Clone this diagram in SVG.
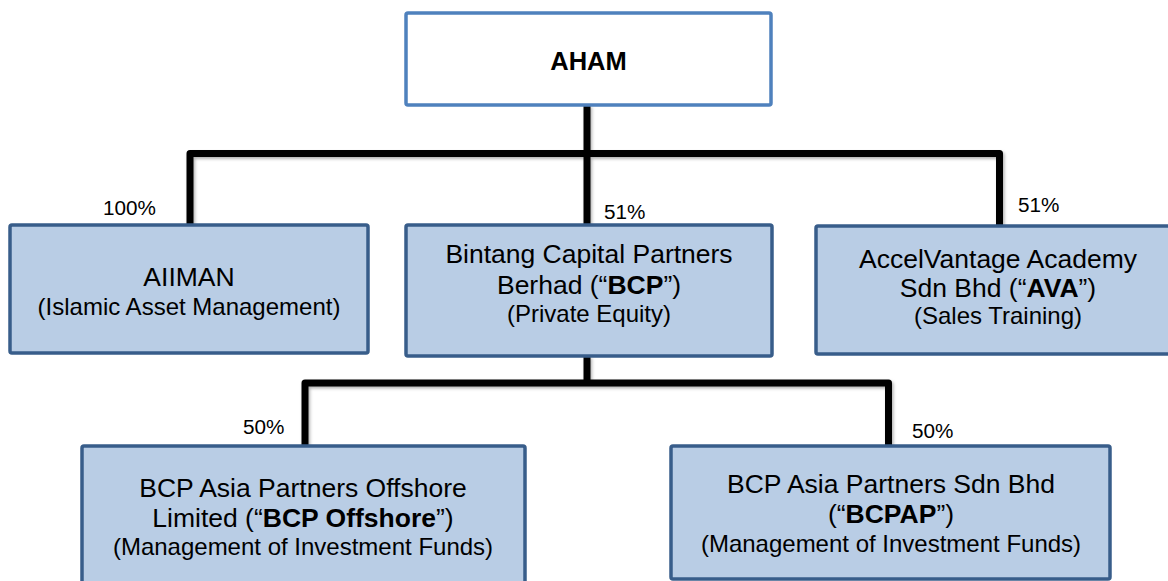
<svg xmlns="http://www.w3.org/2000/svg" width="1168" height="581" viewBox="0 0 1168 581">
<defs>
<style>
text{font-family:"Liberation Sans",Arial,sans-serif;fill:#000;text-anchor:middle}
.main{font-size:26.5px}
.sub{font-size:24px}
.pct{font-size:20.7px;text-anchor:start}
.b{font-weight:bold}
.top{fill:#fff;stroke:#4F81BD;stroke-width:3.5}
.box{fill:#B9CDE5;stroke:#385D8A;stroke-width:3.5}
.conn{fill:none;stroke:#000;stroke-width:7;stroke-linejoin:round}
</style>
<filter id="sh" x="-5%" y="-20%" width="110%" height="140%">
<feDropShadow dx="1.5" dy="2" stdDeviation="1.5" flood-color="#000" flood-opacity="0.3"/>
</filter>
</defs>
<rect width="1168" height="581" fill="#fff"/>
<g id="connectors" filter="url(#sh)">
<path class="conn" d="M587,105 V225"/>
<path class="conn" d="M190,225 V153.5 H999.5 V225"/>
<path class="conn" d="M587,356 V383"/>
<path class="conn" d="M305,446 V383 H888.5 V446"/>
</g>
<g id="aham">
<rect class="top" x="406" y="13" width="365" height="92" rx="2"/>
<text class="main b" x="588.5" y="70" style="font-size:25.5px">AHAM</text>
</g>
<g id="aiiman">
<rect class="box" x="10" y="225" width="358" height="128" rx="2"/>
<text class="main" x="189" y="286">AIIMAN</text>
<text class="sub" x="189" y="315">(Islamic Asset Management)</text>
<text class="pct" x="103" y="215">100%</text>
</g>
<g id="bcp">
<rect class="box" x="406" y="225" width="366" height="131" rx="2"/>
<text class="main" x="589" y="263">Bintang Capital Partners</text>
<text class="main" x="589" y="294">Berhad (“<tspan class="b">BCP</tspan>”)</text>
<text class="sub" x="589" y="322">(Private Equity)</text>
<text class="pct" x="604" y="219">51%</text>
</g>
<g id="ava">
<rect class="box" x="816" y="226" width="360" height="128" rx="2"/>
<text class="main" x="998" y="268">AccelVantage Academy</text>
<text class="main" x="998" y="297">Sdn Bhd (“<tspan class="b">AVA</tspan>”)</text>
<text class="sub" x="998" y="324">(Sales Training)</text>
<text class="pct" x="1018" y="212">51%</text>
</g>
<g id="bcp-offshore">
<rect class="box" x="82" y="446" width="443" height="150" rx="2"/>
<text class="main" x="303" y="497">BCP Asia Partners Offshore</text>
<text class="main" x="303" y="527">Limited (“<tspan class="b">BCP Offshore</tspan>”)</text>
<text class="sub" x="303" y="555">(Management of Investment Funds)</text>
<text class="pct" x="243" y="434">50%</text>
</g>
<g id="bcpap">
<rect class="box" x="671" y="446" width="439" height="133" rx="2"/>
<text class="main" x="891" y="493">BCP Asia Partners Sdn Bhd</text>
<text class="main" x="891" y="523">(“<tspan class="b">BCPAP</tspan>”)</text>
<text class="sub" x="891" y="552">(Management of Investment Funds)</text>
<text class="pct" x="912" y="438">50%</text>
</g>
</svg>
